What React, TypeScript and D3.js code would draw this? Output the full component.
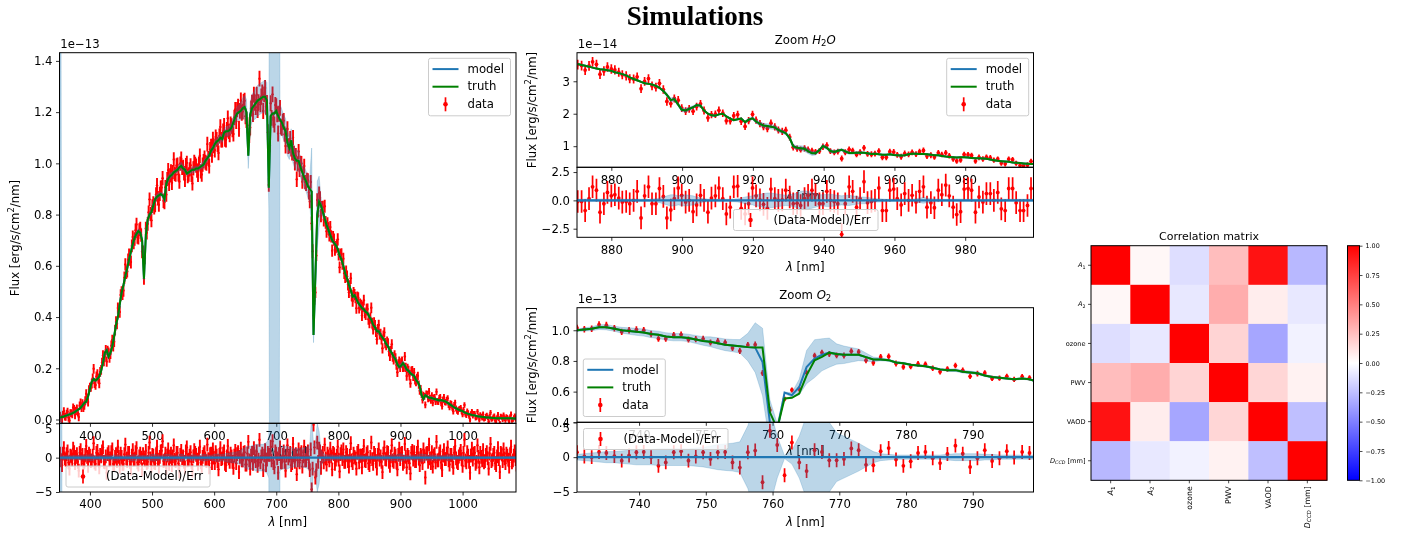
import React, { useEffect, useRef } from 'react';
import * as d3 from 'd3';

// full spectrum, flux in 1e-13
const mainWl = [
  352,355,358,361,364,367,370,373,376,379,
  382,385,388,391,394,397,400,403,406,409,
  412,415,418,421,424,427,430,433,436,439,
  442,445,448,451,454,457,460,463,466,469,
  472,475,478,481,484,487,490,493,496,499,
  502,505,508,511,514,517,520,523,526,529,
  532,535,538,541,544,547,550,553,556,559,
  562,565,568,571,574,577,580,583,586,589,
  592,595,598,601,604,607,610,613,616,619,
  622,625,628,631,634,637,640,643,646,649,
  652,655,658,661,664,667,670,673,676,679,
  682,685,688,691,694,697,700,703,706,709,
  712,715,718,721,724,727,730,733,736,739,
  742,745,748,751,754,757,760,763,766,769,
  772,775,778,781,784,787,790,793,796,799,
  802,805,808,811,814,817,820,823,826,829,
  832,835,838,841,844,847,850,853,856,859,
  862,865,868,871,874,877,880,883,886,889,
  892,895,898,901,904,907,910,913,916,919,
  922,925,928,931,934,937,940,943,946,949,
  952,955,958,961,964,967,970,973,976,979,
  982,985,988,991,994,997,1000,1003,1006,1009,
  1012,1015,1018,1021,1024,1027,1030,1033,1036,1039,
  1042,1045,1048,1051,1054,1057,1060,1063,1066,1069,
  1072,1075,1078,1081,1084,1087,
];
const mainTruth = [
  .008,.01,.012,.015,.017,.02,.022,.026,.03,.035,
  .04,.046,.055,.065,.07,.09,.12,.148,.158,.152,
  .158,.168,.19,.22,.26,.27,.245,.26,.285,.325,
  .37,.40,.45,.495,.525,.56,.59,.625,.655,.685,
  .71,.725,.735,.73,.70,.55,.72,.78,.80,.81,
  .835,.86,.87,.875,.88,.875,.86,.92,.94,.95,
  .955,.965,.97,.975,.985,.99,.98,.975,.96,.965,
  .97,.975,.975,.98,.98,.985,.99,.995,1.01,1.02,
  1.03,1.05,1.06,1.075,1.085,1.09,1.1,1.095,1.12,1.125,
  1.125,1.13,1.14,1.16,1.18,1.195,1.2,1.205,1.215,1.22,
  1.2,1.03,1.19,1.215,1.225,1.235,1.245,1.25,1.255,1.26,
  1.26,1.245,.905,1.185,1.195,1.195,1.205,1.185,1.17,1.16,
  1.14,1.125,1.08,1.06,1.09,1.04,1.02,1.01,1.01,.985,
  .965,.945,.93,.91,.90,.89,.33,.56,.80,.85,
  .835,.81,.785,.76,.74,.72,.70,.69,.68,.665,
  .64,.625,.60,.57,.55,.525,.505,.48,.485,.47,
  .455,.445,.435,.43,.42,.415,.40,.39,.37,.36,
  .345,.345,.33,.32,.31,.295,.285,.27,.26,.245,
  .235,.215,.205,.21,.22,.21,.195,.19,.18,.175,
  .17,.155,.145,.13,.095,.08,.095,.09,.085,.085,
  .082,.08,.078,.075,.075,.075,.072,.07,.065,.06,
  .055,.05,.045,.042,.038,.035,.033,.028,.025,.022,
  .02,.018,.017,.015,.013,.012,.011,.01,.009,.008,
  .008,.007,.006,.006,.005,.005,.005,.005,.005,.005,
  .005,.005,.005,.004,.004,.004,
];
const mainErr = [
  .014,.014,.015,.015,.015,.015,.015,.016,.016,.016,
  .016,.017,.017,.017,.018,.018,.018,.019,.019,.019,
  .019,.019,.019,.02,.02,.02,.02,.02,.021,.021,
  .022,.022,.023,.023,.024,.024,.024,.025,.025,.025,
  .026,.026,.026,.026,.026,.024,.026,.027,.027,.027,
  .028,.028,.028,.028,.028,.028,.028,.028,.028,.028,
  .028,.028,.028,.028,.028,.028,.028,.028,.028,.028,
  .028,.028,.028,.028,.028,.028,.028,.028,.029,.029,
  .029,.029,.029,.029,.029,.029,.03,.03,.03,.03,
  .03,.03,.03,.03,.03,.03,.031,.031,.031,.031,
  .031,.029,.031,.031,.031,.031,.031,.031,.031,.031,
  .031,.031,.027,.031,.031,.031,.031,.031,.031,.031,
  .03,.03,.03,.03,.03,.03,.03,.03,.03,.03,
  .028,.028,.027,.027,.027,.027,.016,.022,.026,.026,
  .026,.026,.025,.025,.025,.024,.024,.024,.024,.024,
  .023,.023,.023,.023,.023,.022,.022,.022,.022,.022,
  .021,.021,.021,.021,.021,.021,.021,.021,.02,.02,
  .02,.02,.02,.02,.02,.019,.019,.019,.019,.019,
  .018,.018,.018,.018,.018,.018,.018,.018,.017,.017,
  .017,.017,.016,.016,.014,.013,.013,.013,.013,.013,
  .013,.013,.013,.013,.013,.013,.013,.013,.012,.012,
  .012,.012,.012,.012,.011,.011,.011,.011,.011,.011,
  .01,.01,.01,.01,.01,.01,.01,.01,.01,.01,
  .01,.01,.01,.01,.01,.01,.01,.01,.01,.01,
  .01,.01,.01,.01,.01,.01,
];
const mainResid = [
  .6,-1.1,1.4,-.3,.9,-1.6,.2,1.3,-.8,.5,
  -1.9,1.1,.4,-.6,1.7,-1.2,.3,-.4,2.1,-.9,
  1.0,-1.4,.2,1.5,-.7,-2.2,.8,-.2,1.2,-1.0,
  .5,1.6,-1.3,.1,-.9,1.9,-.5,.7,-1.6,1.1,
  -.2,1.4,-1.0,.6,-1.7,.0,1.0,-.6,2.2,-1.2,
  .3,-.8,1.6,-1.3,.9,2.4,-.4,-1.5,1.2,.1,
  -1.1,1.8,-.5,.7,-2.0,1.0,.2,-1.4,1.5,-.3,
  .8,-1.9,1.1,.4,-.9,1.6,-1.2,.5,-.2,1.9,
  -1.4,.6,1.2,-.8,.3,-1.7,1.4,-.1,.9,-1.1,
  1.7,-.6,.2,-1.5,1.0,.5,-2.1,1.3,-.4,.8,
  -1.0,2.3,-1.6,.7,1.4,-.5,-1.2,2.6,.2,-1.8,
  1.1,-.3,.4,1.6,2.4,-1.4,.6,-2.2,1.5,-.7,
  .9,-1.9,1.8,.3,-1.1,2.0,-.6,-2.4,1.2,.5,
  -1.3,1.6,-.4,.9,-1.8,-4.6,4.8,-2.9,2.2,1.3,
  -1.5,.7,1.9,-1.0,.2,1.3,-1.7,.5,-.3,1.6,
  -2.0,.9,1.2,-.6,.4,-1.3,2.1,-.8,.1,-1.6,
  1.0,.3,-1.4,1.7,-.5,.8,-1.1,2.2,-.9,.4,
  -1.6,1.2,.2,-2.1,1.5,-.3,.7,-1.2,1.8,-.6,
  .3,-1.7,1.3,.6,-.9,2.0,-1.4,.1,-2.3,1.0,
  .8,-.5,1.6,-1.1,.2,1.2,-2.9,.7,1.9,-.8,
  -1.3,.5,2.3,-.4,.9,-1.8,1.1,-.2,1.5,-1.0,
  .4,-1.5,1.7,-.6,.2,1.0,-1.2,2.6,-.7,.3,
  -2.2,1.3,.6,-.9,1.8,-1.4,.1,1.1,-.5,.8,
  -1.6,2.0,-.3,.7,-1.1,1.4,-2.1,.5,1.2,-.8,
  .3,-1.3,1.6,-.4,.9,-1.0,
];
const mainBand = [
  3,.004,.004,.004,.005,.005,.004,.005,.005,.005,
  .005,.006,.006,.006,.007,.007,.008,.008,.007,.006,
  .005,.006,.006,.007,.008,.008,.006,.006,.007,.009,
  .008,.008,.007,.006,.006,.006,.008,.009,.01,.011,
  .011,.01,.01,.009,.008,.008,.008,.009,.01,.012,
  .014,.014,.012,.01,.008,.01,.013,.014,.014,.012,
  .01,.008,.008,.01,.013,.015,.013,.01,.008,.008,
  .01,.012,.012,.01,.008,.01,.012,.014,.014,.012,
  .01,.01,.012,.014,.016,.016,.014,.014,.016,.018,
  .02,.02,.022,.022,.024,.026,.03,.035,.04,.045,
  .05,.05,.05,.055,.055,.06,.06,.06,.06,.06,
  .065,.07,.08,3,3,3,3,3,.06,.05,
  .05,.05,.05,.045,.045,.04,.04,.04,.04,.04,
  .04,.04,.04,.045,.05,.17,.03,.05,.13,.10,
  .03,.02,.012,.01,.01,.01,.009,.008,.008,.008,
  .008,.008,.008,.007,.006,.006,.006,.006,.007,.007,
  .008,.008,.007,.006,.006,.006,.006,.006,.005,.005,
  .006,.006,.007,.006,.006,.006,.007,.007,.008,.008,
  .007,.008,.01,.01,.009,.007,.006,.006,.006,.006,
  .006,.006,.006,.008,.008,.006,.006,.005,.005,.005,
  .005,.005,.005,.004,.004,.004,.004,.005,.005,.005,
  .004,.004,.004,.003,.003,.003,.003,.003,.002,.002,
  .002,.002,.002,.002,.002,.001,.001,.001,.001,.001,
  .001,.001,.001,.001,.001,.001,.001,.001,.001,.001,
  .001,.001,.001,.001,.001,.001,
];

// second set of full spectrum samples, between the ones above
const mainWl2 = [
  353.5,356.5,359.5,362.5,365.5,368.5,371.5,374.5,377.5,380.5,
  383.5,386.5,389.5,392.5,395.5,398.5,401.5,404.5,407.5,410.5,
  413.5,416.5,419.5,422.5,425.5,428.5,431.5,434.5,437.5,440.5,
  443.5,446.5,449.5,452.5,455.5,458.5,461.5,464.5,467.5,470.5,
  473.5,476.5,479.5,482.5,485.5,488.5,491.5,494.5,497.5,500.5,
  503.5,506.5,509.5,512.5,515.5,518.5,521.5,524.5,527.5,530.5,
  533.5,536.5,539.5,542.5,545.5,548.5,551.5,554.5,557.5,560.5,
  563.5,566.5,569.5,572.5,575.5,578.5,581.5,584.5,587.5,590.5,
  593.5,596.5,599.5,602.5,605.5,608.5,611.5,614.5,617.5,620.5,
  623.5,626.5,629.5,632.5,635.5,638.5,641.5,644.5,647.5,650.5,
  653.5,656.5,659.5,662.5,665.5,668.5,671.5,674.5,677.5,680.5,
  683.5,686.5,689.5,692.5,695.5,698.5,701.5,704.5,707.5,710.5,
  713.5,716.5,719.5,722.5,725.5,728.5,731.5,734.5,737.5,740.5,
  743.5,746.5,749.5,752.5,755.5,758.5,761.5,764.5,767.5,770.5,
  773.5,776.5,779.5,782.5,785.5,788.5,791.5,794.5,797.5,800.5,
  803.5,806.5,809.5,812.5,815.5,818.5,821.5,824.5,827.5,830.5,
  833.5,836.5,839.5,842.5,845.5,848.5,851.5,854.5,857.5,860.5,
  863.5,866.5,869.5,872.5,875.5,878.5,881.5,884.5,887.5,890.5,
  893.5,896.5,899.5,902.5,905.5,908.5,911.5,914.5,917.5,920.5,
  923.5,926.5,929.5,932.5,935.5,938.5,941.5,944.5,947.5,950.5,
  953.5,956.5,959.5,962.5,965.5,968.5,971.5,974.5,977.5,980.5,
  983.5,986.5,989.5,992.5,995.5,998.5,1001.5,1004.5,1007.5,1010.5,
  1013.5,1016.5,1019.5,1022.5,1025.5,1028.5,1031.5,1034.5,1037.5,1040.5,
  1043.5,1046.5,1049.5,1052.5,1055.5,1058.5,1061.5,1064.5,1067.5,1070.5,
  1073.5,1076.5,1079.5,1082.5,1085.5,
];
const mainTruth2 = [
  .009,.011,.013,.016,.018,.021,.024,.028,.032,.037,
  .043,.05,.06,.067,.08,.105,.135,.155,.155,.155,
  .163,.178,.205,.24,.267,.258,.25,.272,.305,.347,
  .385,.425,.472,.51,.542,.575,.607,.64,.67,.697,
  .718,.73,.735,.72,.64,.64,.75,.79,.805,.822,
  .848,.865,.872,.878,.878,.868,.89,.93,.945,.952,
  .96,.968,.972,.98,.988,.985,.978,.968,.962,.968,
  .972,.975,.978,.98,.982,.988,.992,1.0,1.015,1.025,
  1.04,1.055,1.068,1.08,1.088,1.095,1.098,1.108,1.122,1.125,
  1.128,1.135,1.15,1.17,1.188,1.198,1.202,1.21,1.218,1.215,
  1.13,1.12,1.205,1.22,1.23,1.24,1.248,1.252,1.258,1.26,
  1.255,1.1,1.06,1.19,1.195,1.2,1.195,1.178,1.165,1.15,
  1.132,1.1,1.07,1.075,1.065,1.03,1.015,1.01,.998,.975,
  .955,.938,.92,.905,.895,.7,.44,.68,.83,.842,
  .822,.798,.772,.75,.73,.71,.695,.685,.672,.652,
  .632,.612,.585,.56,.538,.515,.492,.482,.478,.462,
  .45,.44,.432,.425,.418,.408,.395,.38,.365,.352,
  .345,.338,.325,.315,.302,.29,.278,.265,.252,.24,
  .225,.21,.207,.215,.215,.202,.192,.185,.178,.172,
  .162,.15,.138,.112,.088,.088,.092,.088,.085,.083,
  .081,.079,.076,.075,.075,.073,.071,.068,.062,.058,
  .052,.048,.044,.04,.036,.034,.03,.026,.023,.021,
  .019,.017,.016,.014,.012,.011,.01,.009,.008,.008,
  .007,.006,.006,.005,.005,.005,.005,.005,.005,.005,
  .005,.005,.004,.004,.004,
];
const mainResid2 = [
  -.4,.6,-.1,.5,-.7,.3,-.3,.8,.1,-.6,
  .7,-.2,-.8,.4,.1,.6,-.5,.3,-.7,.7,
  -.2,.4,.9,-.6,.2,.5,-.4,.8,-.9,.1,
  -.5,.1,.6,-.9,.5,-.1,.7,-.6,.3,-.3,
  .8,-.7,.2,0,.5,-.4,-.8,.7,-.1,.4,
  -.7,.5,-.3,.1,1.0,-.5,.6,.3,-.9,.6,
  .2,-.3,.7,-.8,.4,-.1,-.6,.9,-.4,.3,
  -.6,.2,.7,-.3,.6,-.7,.1,.8,-.5,-.2,
  .5,-.8,0,.8,-.5,.4,-.2,.6,-.9,.2,
  -.1,.6,-.6,.3,-.8,.8,.1,-.4,.7,-1.0,
  .6,-.4,.3,-.9,.2,.9,-.3,-.7,.6,.3,
  -1.1,.7,.4,-.4,-.8,.9,-.1,.5,-.7,.4,
  -.6,.3,-.1,.7,-.8,.3,.5,-.4,-.7,.8,
  .2,-.4,.6,-.7,1.2,-1.6,1.5,-1.8,-.6,.9,
  .2,-.7,-.1,.6,-.4,.2,.7,-.9,.3,-.3,
  .5,-.2,-.6,.8,-.5,.3,-.4,.6,-.1,.7,
  -.7,.3,.4,-.4,.6,-.8,.1,-.2,.7,-.5,
  .4,-.3,-.6,.6,-.2,.8,-.6,.2,-.4,.6,
  -.7,.4,-.2,.7,-.6,.1,.4,-.8,.7,-.3,
  -.5,.7,-.1,.4,-.8,.2,.6,-.6,-.1,.8,
  .3,-.7,-.4,.6,-.7,.3,-.2,.6,-.4,.4,
  -.5,.7,-.1,-.8,.5,-.2,.7,-.4,.8,-.6,
  .3,-.3,.7,-.6,.1,.7,-.4,-.7,.4,-.1,
  .6,-.5,.4,-.8,.2,-.2,.7,-.5,-.1,.6,
  -.3,.5,-.7,.3,-.2,
];

// H2O zoom, flux in 1e-14
const h2oWl = [
  870.5,871.6,872.6,873.7,874.7,875.8,876.8,877.9,878.9,880.0,
  881.0,882.1,883.1,884.2,885.2,886.3,887.3,888.4,889.4,890.5,
  891.5,892.6,893.6,894.7,895.7,896.8,897.8,898.9,899.9,901.0,
  902.0,903.1,904.1,905.2,906.2,907.3,908.3,909.4,910.4,911.5,
  912.5,913.6,914.6,915.7,916.7,917.8,918.8,919.9,920.9,922.0,
  923.0,924.1,925.1,926.2,927.2,928.3,929.3,930.4,931.4,932.5,
  933.5,934.6,935.6,936.7,937.7,938.8,939.8,940.9,941.9,943.0,
  944.0,945.1,946.1,947.2,948.2,949.3,950.3,951.4,952.4,953.5,
  954.5,955.6,956.6,957.7,958.7,959.8,960.8,961.9,962.9,964.0,
  965.0,966.1,967.1,968.2,969.2,970.3,971.3,972.4,973.4,974.5,
  975.5,976.6,977.6,978.7,979.7,980.8,981.8,982.9,983.9,985.0,
  986.0,987.1,988.1,989.2,990.2,991.3,992.3,993.4,994.4,995.5,
  996.5,997.6,998.6,999.7,1000.7,
];
const h2oTruth = [
  3.53,3.5,3.48,3.45,3.42,3.39,3.37,3.36,3.34,3.32,
  3.28,3.25,3.22,3.18,3.12,3.07,3.03,2.98,2.94,2.92,
  2.9,2.86,2.8,2.7,2.58,2.42,2.45,2.28,2.12,2.1,
  2.15,2.2,2.27,2.25,2.1,2.0,1.95,1.94,1.98,2.0,
  1.92,1.85,1.8,1.83,1.85,1.74,1.82,1.86,1.76,1.69,
  1.64,1.62,1.6,1.58,1.5,1.45,1.4,1.25,1.0,.95,
  .94,.92,.85,.78,.78,.88,1.01,.95,.85,.82,
  .86,.89,.84,.79,.79,.8,.8,.8,.78,.76,
  .77,.75,.74,.74,.75,.73,.72,.71,.72,.75,
  .77,.77,.76,.76,.75,.74,.72,.72,.7,.68,
  .67,.66,.65,.66,.66,.65,.64,.63,.63,.62,
  .61,.59,.57,.55,.54,.53,.52,.5,.49,.48,
  .47,.46,.45,.45,.45,
];
const h2oErr = [
  .15,.15,.15,.15,.15,.145,.145,.145,.145,.145,
  .14,.14,.14,.14,.14,.14,.135,.135,.135,.135,
  .135,.135,.13,.13,.13,.125,.125,.125,.12,.12,
  .12,.12,.12,.12,.12,.12,.115,.115,.115,.115,
  .115,.115,.115,.115,.115,.11,.11,.11,.11,.11,
  .11,.11,.11,.11,.11,.11,.105,.105,.1,.095,
  .095,.095,.095,.09,.09,.09,.1,.095,.09,.09,
  .09,.09,.09,.09,.09,.09,.09,.09,.09,.09,
  .09,.09,.09,.09,.09,.09,.09,.09,.09,.09,
  .09,.09,.09,.09,.09,.09,.085,.085,.085,.085,
  .085,.085,.085,.085,.085,.085,.085,.085,.085,.085,
  .085,.085,.08,.08,.08,.08,.08,.08,.08,.08,
  .08,.08,.08,.08,.08,
];
const h2oResid = [
  -.1,-.1,-.9,.15,1.2,.9,-1.05,-.3,.7,.4,
  .5,.2,-.15,-.1,-.3,0,.8,-1.55,.4,1.2,
  -.3,-.3,1.05,.35,-1.55,-.85,.15,1.1,.45,-.15,
  0,-1,-.4,.45,0,-1.05,.2,.4,1.1,.15,
  -1.2,-.6,1.2,1.25,-.7,-1.2,-.3,1.1,.4,.05,
  -.35,-.7,1,.15,0,.05,.9,.3,-.3,-.25,-.45,
  .15,.45,.9,.5,-.3,-.3,.8,0,-.1,-.3,
  -3,-.3,1.2,.8,-.6,.15,1.65,-.2,-.1,0,
  1.1,-.9,-.9,.9,1,.15,-.4,.6,0,.45,
  -.15,.8,1.2,-.6,-.2,-.65,.9,.5,1.35,.4,
  -.6,-1.25,-1,1,1.05,.9,-1.05,.3,-.15,.6,
  .6,0,.7,-.75,-.9,1.05,1.05,-.2,-.9,-.9,
  -.45,1.05,.4,.15,
];
const h2oBand = [
  .1,.1,.12,.12,.1,.1,.12,.12,.1,.1,
  .1,.12,.12,.1,.1,.12,.12,.1,.1,.1,
  .12,.15,.2,.3,.4,.5,.5,.4,.45,.5,
  .45,.4,.3,.2,.15,.12,.1,.1,.12,.12,
  .1,.1,.12,.15,.2,.3,.35,.4,.5,.55,
  .6,.65,.65,.6,.55,.5,.45,.5,.55,.65,
  .8,.85,.8,.7,.6,.5,.5,.55,.55,.5,
  .45,.4,.45,.45,.4,.35,.3,.3,.25,.2,
  .15,.15,.12,.1,.1,.1,.1,.12,.12,.1,
  .1,.15,.2,.25,.2,.15,.12,.12,.1,.1,
  .1,.1,.12,.12,.1,.1,.1,.1,.1,.1,
  .1,.1,.12,.12,.1,.1,.1,.1,.1,.1,
  .1,.1,.1,.1,.1,
];

// O2 zoom, flux in 1e-13
const o2Wl = [
  730.7,731.8,732.9,734.0,735.1,736.3,737.4,738.5,739.6,740.7,
  741.8,742.9,744.0,745.2,746.3,747.4,748.5,749.6,750.7,751.8,
  752.9,754.0,755.1,756.3,757.4,758.5,759.6,760.7,761.8,762.9,
  764.0,765.1,766.3,767.4,768.5,769.6,770.7,771.8,772.9,774.0,
  775.1,776.2,777.4,778.5,779.6,780.7,781.8,782.9,784.0,785.1,
  786.2,787.4,788.5,789.6,790.7,791.8,792.9,794.0,795.1,796.2,
  797.4,798.5,799.6,
];
const o2Model = [
  1.0,1.005,1.01,1.02,1.02,1.01,1.0,.995,.99,.985,
  .975,.97,.96,.955,.955,.95,.94,.93,.925,.915,
  .905,.9,.895,.89,.887,.793,.40,.35,.594,.577,
  .63,.76,.815,.84,.854,.845,.84,.84,.84,.825,
  .81,.81,.805,.79,.785,.775,.77,.765,.755,.745,
  .74,.74,.73,.725,.72,.705,.695,.69,.685,.68,
  .685,.68,.665,
];
const o2Truth = [
  1.0,1.005,1.01,1.02,1.02,1.01,1.0,.995,.99,.985,
  .975,.97,.96,.955,.955,.95,.94,.93,.925,.915,
  .905,.9,.895,.89,.887,.887,.465,.36,.555,.56,
  .587,.706,.804,.826,.854,.845,.84,.84,.84,.825,
  .81,.81,.805,.79,.785,.775,.77,.765,.755,.745,
  .74,.74,.73,.725,.72,.705,.695,.69,.685,.68,
  .685,.68,.665,
];
const o2Err = [
  .021,.021,.021,.022,.022,.021,.021,.021,.021,.021,
  .021,.02,.02,.02,.02,.02,.02,.02,.02,.02,
  .02,.02,.02,.02,.02,.02,.021,.014,.016,.016,
  .017,.018,.019,.019,.019,.019,.019,.019,.019,.019,
  .019,.019,.019,.019,.019,.018,.018,.018,.018,.018,
  .018,.018,.018,.018,.018,.017,.017,.017,.017,.017,
  .017,.017,.017,
];
const o2Resid = [
  .7,.1,0,.75,.6,.15,-.5,.25,.7,.75,
  0,-1.25,-.75,.7,.85,-.5,.1,.7,-.25,.7,
  .75,-.75,-1.5,.7,.95,-3.6,3.8,1.75,-2.6,2.1,
  -.75,-2,1,.75,-.45,-.45,-.25,1.25,1,-1.1,
  -1.15,.85,1.3,-.35,-1.25,-.6,.6,.75,-.15,-.85,
  .45,1.65,.5,-1.4,-.15,1,-.55,-.15,.85,-.05,
  .75,.6,-.75,
];
const o2Band = [
  .4,.5,.6,.7,.8,.8,.9,1,1.1,1.1,
  1.1,1.2,1.2,1.2,1.2,1.2,1.3,1.4,1.6,1.8,
  1.9,2,2.2,4.5,8.1,11,7,3,.2,1,
  3,6,6.5,5.5,5,3.5,3,2.5,2,1.4,
  .8,.5,.4,.3,.3,.3,.3,.3,.3,.3,
  .4,.5,.5,.5,.5,.4,.4,.3,.3,.3,
  .3,.3,.3,
];

// correlation matrix
const corrLabels = ['A1', 'A2', 'ozone', 'PWV', 'VAOD', 'DCCD'];
const corrRows = [
  [1, .03, -.13, .26, .93, -.28],
  [.03, 1, -.09, .32, .07, -.09],
  [-.13, -.09, 1, .17, -.35, -.05],
  [.26, .32, .17, 1, .16, .05],
  [.93, .07, -.35, .16, 1, -.25],
  [-.28, -.09, -.05, .05, -.25, 1],
];
const cbarTicks = [-1, -.75, -.5, -.25, 0, .25, .5, .75, 1];

const BLUE = '#1f77b4';
const FONT = "'DejaVu Sans', sans-serif";
const FS = 11.7;
const FLUX_LABEL = 'Flux [erg/s/cm<tspan dy="-4.5" font-size="8.5">2</tspan><tspan dy="4.5">/nm]</tspan>';
const LAMBDA = '<tspan font-style="italic">λ</tspan> [nm]';

let clipId = 0;

const styleAxis = (g: any) => {
  g.select('.domain').remove();
  g.selectAll('line').attr('stroke', '#000').attr('stroke-width', 0.8);
  g.selectAll('text').attr('font-family', FONT).attr('font-size', FS).attr('fill', '#000');
};

const frame = (g: any, left: number, top: number, right: number, bottom: number) => {
  g.append('rect').attr('x', left).attr('y', top)
    .attr('width', right - left).attr('height', bottom - top)
    .attr('fill', 'none').attr('stroke', '#000').attr('stroke-width', 1);
};

const clip = (g: any, left: number, top: number, right: number, bottom: number) => {
  const id = 'clip' + clipId++;
  g.append('clipPath').attr('id', id).append('rect')
    .attr('x', left).attr('y', top).attr('width', right - left).attr('height', bottom - top);
  return g.append('g').attr('clip-path', `url(#${id})`);
};

const errorBars = (g: any, xs: number[], ys: number[], es: number[], x: any, y: any, sw: number, r: number) => {
  xs.forEach((w, i) => {
    if (ys[i] === undefined) return;
    g.append('line').attr('x1', x(w)).attr('x2', x(w))
      .attr('y1', y(ys[i] - es[i])).attr('y2', y(ys[i] + es[i]))
      .attr('stroke', 'red').attr('stroke-width', sw);
    g.append('circle').attr('cx', x(w)).attr('cy', y(ys[i])).attr('r', r).attr('fill', 'red');
  });
};

const band = (g: any, xs: number[], lo: number[], hi: number[], x: any, y: any) => {
  const area = d3.area<number>()
    .x((d) => x(xs[d]))
    .y0((d) => y(lo[d]))
    .y1((d) => y(hi[d]));
  g.append('path').attr('d', area(d3.range(xs.length)))
    .attr('fill', BLUE).attr('fill-opacity', 0.3)
    .attr('stroke', BLUE).attr('stroke-opacity', 0.3).attr('stroke-width', 0.7);
};

const curve = (g: any, xs: number[], ys: number[], x: any, y: any, color: string, sw: number) => {
  const line = d3.line<number>().x((d) => x(xs[d])).y((d) => y(ys[d]));
  g.append('path').attr('d', line(d3.range(xs.length)))
    .attr('fill', 'none').attr('stroke', color).attr('stroke-width', sw);
};

const legendTop = (g: any, bx: number, by: number) => {
  g.append('rect').attr('x', bx).attr('y', by).attr('width', 82).attr('height', 57.5).attr('rx', 2)
    .attr('fill', '#fff').attr('fill-opacity', 0.8).attr('stroke', '#ccc').attr('stroke-width', 1);
  const rows = [['model', BLUE], ['truth', 'green'], ['data', 'red']];
  rows.forEach(([name, color], i) => {
    const cy = by + 10.8 + i * 17.6;
    if (i < 2) {
      g.append('line').attr('x1', bx + 4).attr('x2', bx + 30).attr('y1', cy).attr('y2', cy)
        .attr('stroke', color).attr('stroke-width', 2);
    } else {
      g.append('line').attr('x1', bx + 17).attr('x2', bx + 17).attr('y1', cy - 7).attr('y2', cy + 7)
        .attr('stroke', color).attr('stroke-width', 1.7);
      g.append('circle').attr('cx', bx + 17).attr('cy', cy).attr('r', 2.3).attr('fill', color);
    }
    g.append('text').attr('x', bx + 39).attr('y', cy).attr('dy', '.32em')
      .attr('font-family', FONT).attr('font-size', FS).text(name);
  });
};

const legendResid = (g: any, bx: number, by: number, w: number) => {
  g.append('rect').attr('x', bx).attr('y', by).attr('width', w).attr('height', 21).attr('rx', 2)
    .attr('fill', '#fff').attr('fill-opacity', 0.8).attr('stroke', '#ccc').attr('stroke-width', 1);
  const cy = by + 10.5;
  g.append('line').attr('x1', bx + 17).attr('x2', bx + 17).attr('y1', cy - 7).attr('y2', cy + 7)
    .attr('stroke', 'red').attr('stroke-width', 1.7);
  g.append('circle').attr('cx', bx + 17).attr('cy', cy).attr('r', 2.3).attr('fill', 'red');
  g.append('text').attr('x', bx + 40).attr('y', cy).attr('dy', '.32em')
    .attr('font-family', FONT).attr('font-size', FS).text('(Data-Model)/Err');
};

type PanelOpts = {
  left: number; right: number; top: number; mid: number; bottom: number;
  xDomain: number[]; yDomain: number[]; rDomain: number[];
  xTicks: number[]; yTicks: number[]; rTicks: number[];
  yFormat: string; rFormat: string; topFive: boolean;
  wl: number[]; model: number[]; truth: number[]; err: number[]; resid: number[]; half: number[];
  wl2?: number[]; model2?: number[]; resid2?: number[];
  power: string; title?: string; legendTopAt: number[]; legendResidAt: number[];
  labelX: number; labelY: number; sw: number; r: number; lineSw: number;
};

const drawPanel = (svg: any, o: PanelOpts) => {
  const g = svg.append('g');
  const x = d3.scaleLinear().domain(o.xDomain).range([o.left, o.right]);
  const y = d3.scaleLinear().domain(o.yDomain).range([o.mid, o.top]);
  const r = d3.scaleLinear().domain(o.rDomain).range([o.bottom, o.mid]);
  const data = o.model.map((m, i) => m + o.resid[i] * o.err[i]);
  const lo = o.model.map((m, i) => m - o.half[i]);
  const hi = o.model.map((m, i) => m + o.half[i]);

  // upper panel
  const c1 = clip(g, o.left, o.top, o.right, o.mid);
  if (o.wl2 && o.model2 && o.resid2) {
    const resid2 = o.resid2;
    const data2 = o.model2.map((m, i) => m + resid2[i] * o.err[i]);
    errorBars(c1, o.wl2, data2, o.err, x, y, o.sw, o.r);
  }
  errorBars(c1, o.wl, data, o.err, x, y, o.sw, o.r);
  band(c1, o.wl, lo, hi, x, y);
  curve(c1, o.wl, o.model, x, y, BLUE, o.lineSw);
  curve(c1, o.wl, o.truth, x, y, 'green', o.lineSw);

  g.append('g').attr('transform', `translate(${o.left},0)`)
    .call(d3.axisLeft(y).tickValues(o.yTicks).tickSize(3.5).tickPadding(3.5).tickFormat(d3.format(o.yFormat) as any))
    .call(styleAxis);
  g.append('g').attr('transform', `translate(0,${o.mid})`)
    .call(d3.axisBottom(x).tickValues(o.xTicks).tickSize(3.5).tickPadding(4.5).tickFormat(d3.format('d') as any))
    .call(styleAxis);
  // xlabel of the upper axes ends up inside the residual panel
  g.append('text').attr('x', (o.left + o.right) / 2).attr('y', o.mid + 29).attr('dy', '.32em')
    .attr('text-anchor', 'middle').attr('font-family', FONT).attr('font-size', FS).html(LAMBDA);

  legendTop(g, o.legendTopAt[0], o.legendTopAt[1]);

  g.append('text').attr('x', o.left + 0.8).attr('y', o.top - 8).attr('dy', '.32em')
    .attr('font-family', FONT).attr('font-size', FS).text(o.power);
  g.append('text').attr('transform', `translate(${o.labelX},${o.labelY}) rotate(-90)`)
    .attr('text-anchor', 'middle').attr('dy', '.32em')
    .attr('font-family', FONT).attr('font-size', FS).html(FLUX_LABEL);
  if (o.title) {
    g.append('text').attr('x', (o.left + o.right) / 2).attr('y', o.top - 12).attr('dy', '.32em')
      .attr('text-anchor', 'middle').attr('font-family', FONT).attr('font-size', FS).html(o.title);
  }

  // residual panel
  const c2 = clip(g, o.left, o.mid, o.right, o.bottom);
  const unit = o.err.map(() => 1);
  if (o.wl2 && o.resid2) errorBars(c2, o.wl2, o.resid2, unit, x, r, o.sw, o.r);
  errorBars(c2, o.wl, o.resid, unit, x, r, o.sw, o.r);
  const rHalf = o.half.map((h, i) => h / o.err[i]);
  band(c2, o.wl, rHalf.map((h) => -h), rHalf, x, r);
  c2.append('line').attr('x1', x(o.xDomain[0])).attr('x2', x(o.xDomain[1]))
    .attr('y1', r(0)).attr('y2', r(0)).attr('stroke', BLUE).attr('stroke-width', 2.2);

  const rAxis = g.append('g').attr('transform', `translate(${o.left},0)`)
    .call(d3.axisLeft(r).tickValues(o.rTicks).tickSize(3.5).tickPadding(3.5).tickFormat(d3.format(o.rFormat) as any))
    .call(styleAxis);
  if (o.topFive) rAxis.selectAll('text').filter((d: any) => d === 5).attr('dy', 9.5);
  g.append('g').attr('transform', `translate(0,${o.bottom})`)
    .call(d3.axisBottom(x).tickValues(o.xTicks).tickSize(3.5).tickPadding(4.5).tickFormat(d3.format('d') as any))
    .call(styleAxis);
  g.append('text').attr('x', (o.left + o.right) / 2).attr('y', o.bottom + 30).attr('dy', '.32em')
    .attr('text-anchor', 'middle').attr('font-family', FONT).attr('font-size', FS).html(LAMBDA);

  legendResid(g, o.legendResidAt[0], o.legendResidAt[1], o.legendResidAt[2]);

  frame(g, o.left, o.top, o.right, o.mid);
  frame(g, o.left, o.mid, o.right, o.bottom);
};

const drawCorr = (svg: any) => {
  const g = svg.append('g');
  const [left, right, top, bottom] = [1091, 1327, 245.7, 480.3];
  const x = d3.scaleBand().domain(corrLabels).range([left, right]);
  const y = d3.scaleBand().domain(corrLabels).range([top, bottom]);
  const color = d3.scaleLinear<string>().domain([-1, 0, 1]).range(['#0000ff', '#ffffff', '#ff0000']);

  corrRows.forEach((row, i) => {
    row.forEach((v, j) => {
      g.append('rect').attr('x', x(corrLabels[j])).attr('y', y(corrLabels[i]))
        .attr('width', x.bandwidth() + 0.3).attr('height', y.bandwidth() + 0.3).attr('fill', color(v));
    });
  });
  frame(g, left, top, right, bottom);

  const labelHtml = (name: string) => {
    if (name === 'A1') return '<tspan font-style="italic">A</tspan><tspan dy="1.5" font-size="0.72em">1</tspan>';
    if (name === 'A2') return '<tspan font-style="italic">A</tspan><tspan dy="1.5" font-size="0.72em">2</tspan>';
    if (name === 'DCCD') return '<tspan font-style="italic">D</tspan><tspan dy="1.5" font-size="0.72em" font-style="italic">CCD</tspan><tspan dy="-1.5"> [mm]</tspan>';
    return name;
  };

  corrLabels.forEach((name) => {
    const cy = y(name)! + y.bandwidth() / 2;
    g.append('line').attr('x1', left - 3).attr('x2', left).attr('y1', cy).attr('y2', cy)
      .attr('stroke', '#000').attr('stroke-width', 0.7);
    g.append('text').attr('x', left - 5.5).attr('y', cy).attr('dy', '.32em').attr('text-anchor', 'end')
      .attr('font-family', FONT).attr('font-size', 6.6).html(labelHtml(name));
    const cx = x(name)! + x.bandwidth() / 2;
    g.append('line').attr('x1', cx).attr('x2', cx).attr('y1', bottom).attr('y2', bottom + 3)
      .attr('stroke', '#000').attr('stroke-width', 0.7);
    g.append('text').attr('transform', `translate(${cx},${bottom + 6}) rotate(-90)`)
      .attr('dy', '.32em').attr('text-anchor', 'end')
      .attr('font-family', FONT).attr('font-size', 7.8).html(labelHtml(name));
  });

  g.append('text').attr('x', (left + right) / 2).attr('y', 236).attr('dy', '.32em')
    .attr('text-anchor', 'middle').attr('font-family', FONT).attr('font-size', 11)
    .text('Correlation matrix');

  // colorbar
  const [cl, cr] = [1347.5, 1359.5];
  const defs = svg.append('defs');
  const grad = defs.append('linearGradient').attr('id', 'bwr').attr('x1', 0).attr('y1', 1).attr('x2', 0).attr('y2', 0);
  grad.append('stop').attr('offset', '0%').attr('stop-color', '#0000ff');
  grad.append('stop').attr('offset', '50%').attr('stop-color', '#ffffff');
  grad.append('stop').attr('offset', '100%').attr('stop-color', '#ff0000');
  g.append('rect').attr('x', cl).attr('y', top).attr('width', cr - cl).attr('height', bottom - top)
    .attr('fill', 'url(#bwr)');
  frame(g, cl, top, cr, bottom);
  const cy = d3.scaleLinear().domain([-1, 1]).range([bottom, top]);
  g.append('g').attr('transform', `translate(${cr},0)`)
    .call(d3.axisRight(cy).tickValues(cbarTicks).tickSize(3).tickPadding(3).tickFormat(d3.format('.2f') as any))
    .call((a: any) => {
      a.select('.domain').remove();
      a.selectAll('line').attr('stroke', '#000').attr('stroke-width', 0.7);
      a.selectAll('text').attr('font-family', FONT).attr('font-size', 6.4).attr('fill', '#000');
    });
};

const App = () => {
  const ref = useRef<SVGSVGElement>(null);

  useEffect(() => {
    const svg = d3.select(ref.current);
    svg.selectAll('*').remove(); // clear previous render
    clipId = 0;

    svg.append('text').attr('x', 695).attr('y', 25).attr('text-anchor', 'middle')
      .attr('font-family', "'Liberation Serif', serif").attr('font-weight', 'bold').attr('font-size', 27)
      .text('Simulations');

    drawPanel(svg, {
      left: 59.5, right: 516, top: 52.7, mid: 423.3, bottom: 492,
      xDomain: [351, 1086], yDomain: [-0.0148, 1.432], rDomain: [-5, 5],
      xTicks: [400, 500, 600, 700, 800, 900, 1000], yTicks: [0, .2, .4, .6, .8, 1, 1.2, 1.4], rTicks: [-5, 0, 5],
      yFormat: '.1f', rFormat: 'd', topFive: true,
      wl: mainWl, model: mainTruth, truth: mainTruth, err: mainErr, resid: mainResid, half: mainBand,
      wl2: mainWl2, model2: mainTruth2, resid2: mainResid2,
      power: '1e\u221213', legendTopAt: [428.5, 58.3], legendResidAt: [66, 466, 144],
      labelX: 15, labelY: 238, sw: 1.9, r: 1.2, lineSw: 2,
    });

    drawPanel(svg, {
      left: 577, right: 1033.5, top: 52.7, mid: 167.3, bottom: 237.3,
      xDomain: [870.3, 999.3], yDomain: [0.35, 3.88], rDomain: [-3.26, 2.92],
      xTicks: [880, 900, 920, 940, 960, 980], yTicks: [1, 2, 3], rTicks: [-2.5, 0, 2.5],
      yFormat: 'd', rFormat: '.1f', topFive: false,
      wl: h2oWl, model: h2oTruth, truth: h2oTruth, err: h2oErr, resid: h2oResid,
      half: h2oBand.map((b, i) => b * h2oErr[i]),
      power: '1e\u221214', title: 'Zoom <tspan font-style="italic">H</tspan><tspan dy="2" font-size="8.5">2</tspan><tspan dy="-2" font-style="italic">O</tspan>',
      legendTopAt: [946.7, 58.3], legendResidAt: [733.5, 209.5, 144.5],
      labelX: 532, labelY: 110, sw: 1.7, r: 1.9, lineSw: 2,
    });

    drawPanel(svg, {
      left: 577, right: 1033.5, top: 307.7, mid: 422.3, bottom: 492,
      xDomain: [730.7, 799.1], yDomain: [0.4, 1.147], rDomain: [-5, 5],
      xTicks: [740, 750, 760, 770, 780, 790], yTicks: [.4, .6, .8, 1], rTicks: [-5, 0, 5],
      yFormat: '.1f', rFormat: 'd', topFive: true,
      wl: o2Wl, model: o2Model, truth: o2Truth, err: o2Err, resid: o2Resid,
      half: o2Band.map((b, i) => b * o2Err[i]),
      power: '1e\u221213', title: 'Zoom <tspan font-style="italic">O</tspan><tspan dy="2" font-size="8.5">2</tspan>',
      legendTopAt: [583.3, 359], legendResidAt: [583.5, 428.5, 144.5],
      labelX: 532, labelY: 365, sw: 1.7, r: 1.9, lineSw: 2,
    });

    drawCorr(svg);
  }, []);

  return (
    <svg ref={ref} width={1403} height={536} style={{ position: 'absolute', left: 0, top: 0, background: '#fff', filter: 'blur(0.35px)' }} />
  );
};

export default App;
